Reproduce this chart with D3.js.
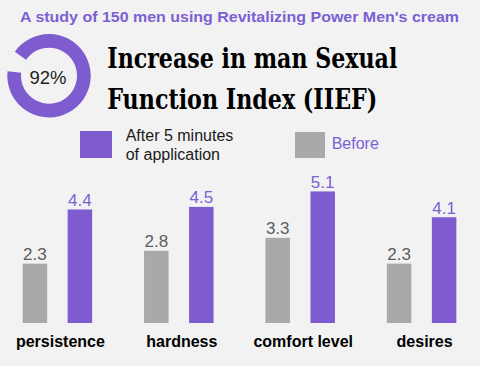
<!DOCTYPE html>
<html><head><meta charset="utf-8">
<script src="https://cdn.jsdelivr.net/npm/d3@7/dist/d3.min.js"></script>
<style>html,body{margin:0;padding:0;background:#f2f2f2;}svg{display:block;}</style>
</head><body>
<script>
const categories = ["persistence", "hardness", "comfort level", "desires"];
const beforeValues = [2.3, 2.8, 3.3, 2.3];
const afterValues = [4.4, 4.5, 5.1, 4.1];
const seriesNames = ["Before", "After 5 minutes of application"];
const donutPercent = 92;
const subtitle = "A study of 150 men using Revitalizing Power Men's cream";
const titleLines = ["Increase in man Sexual", "Function Index (IIEF)"];

const W = 480, H = 366;
const purple = "#7f5bd0", gray = "#aaa9aa";
const svg = d3.select("body").append("svg").attr("width", W).attr("height", H);
svg.append("rect").attr("width", W).attr("height", H).attr("fill", "#f2f2f2");

// subtitle
svg.append("text").attr("x", 239.5).attr("y", 22).attr("text-anchor", "middle")
  .attr("font-family", "Liberation Sans, Arial, sans-serif").attr("font-weight", "bold")
  .attr("font-size", 15).attr("fill", "#7c5fd2")
  .attr("textLength", 439).attr("lengthAdjust", "spacingAndGlyphs").text(subtitle);

// donut
const g0 = svg.append("g").attr("transform", "translate(49,75.7)");
const start = -55 * Math.PI / 180;
const arc = d3.arc().innerRadius(28).outerRadius(41.7);
g0.append("path").attr("fill", purple)
  .attr("d", arc({startAngle: start, endAngle: start + 2 * Math.PI * donutPercent / 100}));
g0.append("text").attr("x", -1).attr("y", 8.5).attr("text-anchor", "middle")
  .attr("font-family", "Liberation Sans, Arial, sans-serif").attr("font-size", 18.5)
  .attr("fill", "#222").text(donutPercent + "%");

// big title
const tl = [290, 270], ty = [68.3, 109];
titleLines.forEach((t, i) => {
  svg.append("text").attr("x", 107.3).attr("y", ty[i])
    .attr("font-family", "DejaVu Serif Condensed, DejaVu Serif, serif").attr("font-weight", "bold")
    .attr("font-stretch", "condensed")
    .attr("font-size", 28).attr("fill", "#000")
    .attr("textLength", tl[i]).attr("lengthAdjust", "spacingAndGlyphs").text(t);
});

// legend
svg.append("rect").attr("x", 80).attr("y", 131).attr("width", 32).attr("height", 27).attr("fill", purple);
const lt = svg.append("text").attr("font-family", "Liberation Sans, Arial, sans-serif")
  .attr("font-size", 16).attr("fill", "#1a1a1a");
lt.append("tspan").attr("x", 125.7).attr("y", 140.7).text("After 5 minutes");
lt.append("tspan").attr("x", 125.7).attr("y", 160).text("of application");
svg.append("rect").attr("x", 295).attr("y", 132).attr("width", 30).attr("height", 26).attr("fill", gray);
svg.append("text").attr("x", 331.7).attr("y", 149.3)
  .attr("font-family", "Liberation Sans, Arial, sans-serif").attr("font-size", 16)
  .attr("fill", "#7c5fd2").text(seriesNames[0]);

// bars
const x0 = d3.scaleBand().domain(categories).range([-3.3, 482.3]).paddingInner(0).paddingOuter(0);
const x1 = d3.scaleBand().domain(["before", "after"]).range([-34.75, 34.75]).paddingInner(0.456).paddingOuter(0);
const y = d3.scaleLinear().domain([0, 5]).range([323, 194]);

const data = categories.map((c, i) => ({c, vals: [
  {k: "before", v: beforeValues[i], fill: gray, tc: "#5c5c5c"},
  {k: "after", v: afterValues[i], fill: purple, tc: "#7c5fd2"}
]}));

const groups = svg.selectAll("g.grp").data(data).join("g").attr("class", "grp")
  .attr("transform", d => `translate(${x0(d.c) + x0.bandwidth() / 2},0)`);
groups.selectAll("rect").data(d => d.vals).join("rect")
  .attr("x", d => x1(d.k)).attr("width", x1.bandwidth())
  .attr("y", d => y(d.v)).attr("height", d => y(0) - y(d.v)).attr("fill", d => d.fill);
groups.selectAll("text.val").data(d => d.vals).join("text").attr("class", "val")
  .attr("x", d => x1(d.k) + x1.bandwidth() / 2).attr("y", d => y(d.v) - 3.5)
  .attr("text-anchor", "middle").attr("font-family", "Liberation Sans, Arial, sans-serif")
  .attr("font-size", 17).attr("fill", d => d.tc).text(d => d.v.toFixed(1));
groups.append("text").attr("x", 3).attr("y", 347).attr("text-anchor", "middle")
  .attr("font-family", "Liberation Sans, Arial, sans-serif").attr("font-weight", "bold")
  .attr("font-size", 16).attr("fill", "#000").text(d => d.c);
</script>
</body></html>
